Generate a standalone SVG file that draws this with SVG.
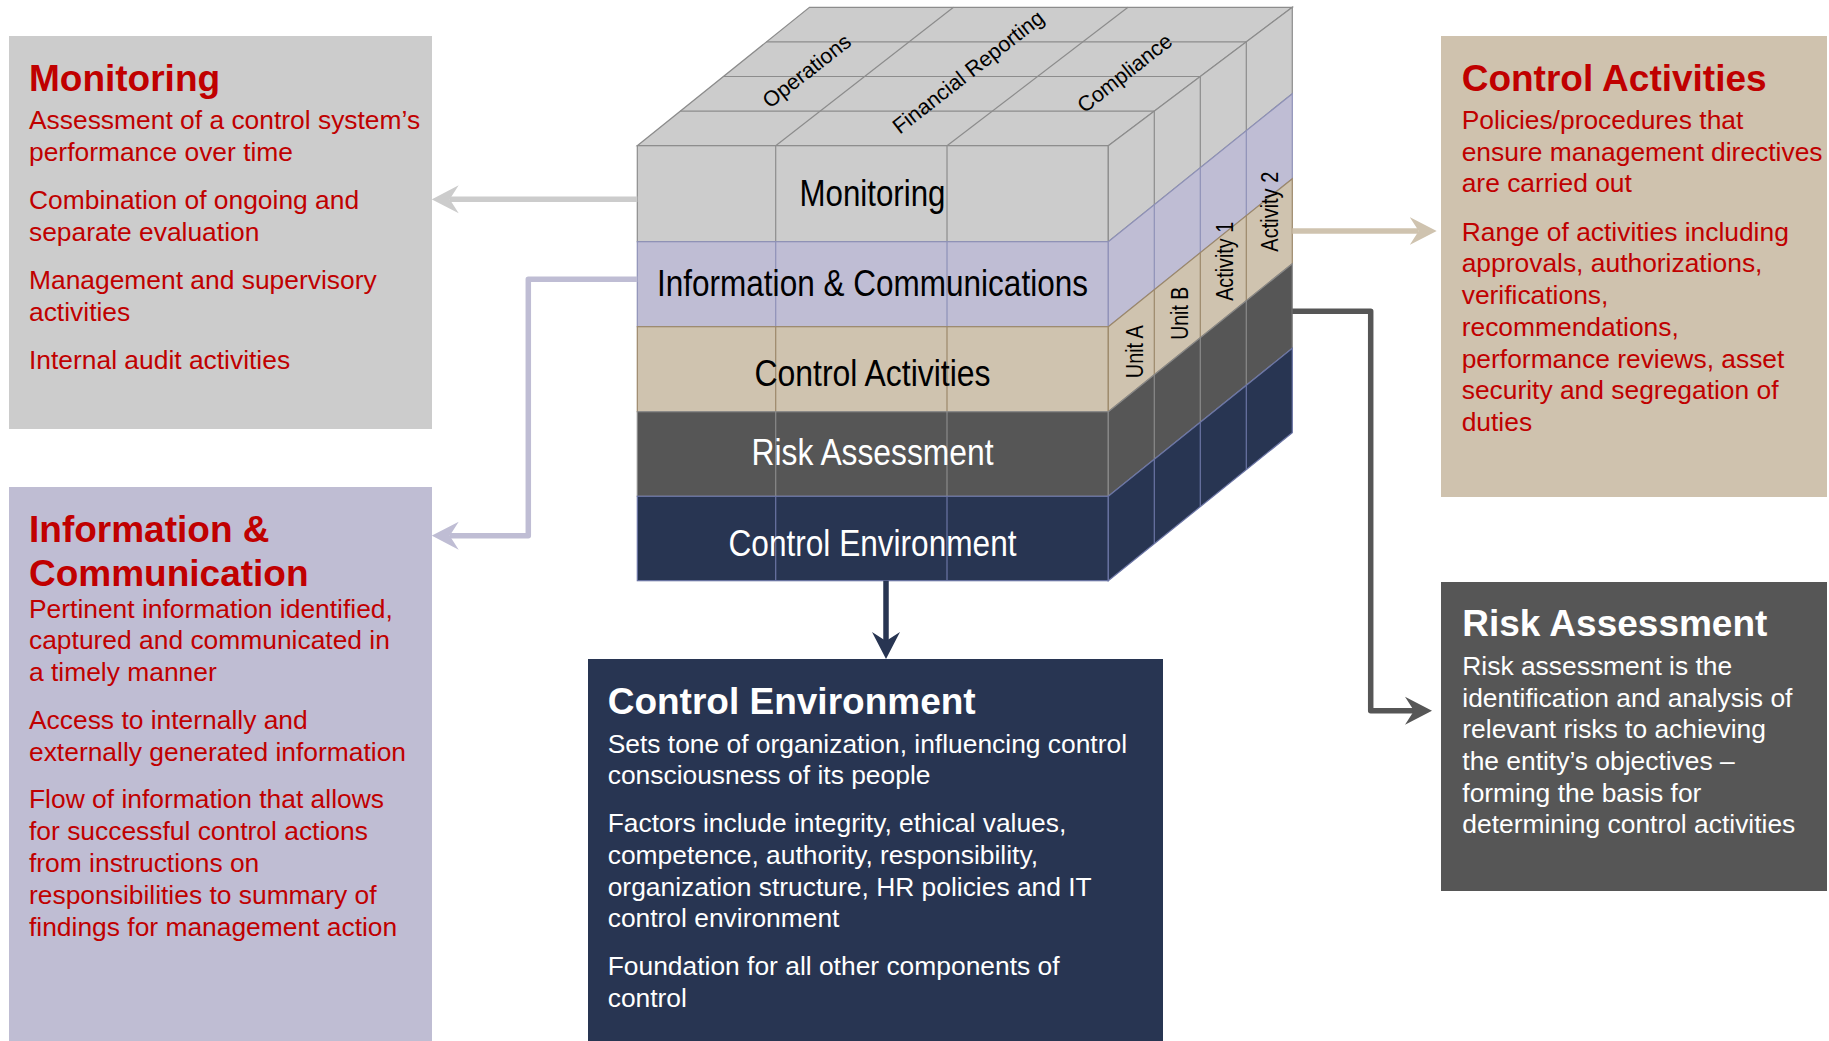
<svg xmlns="http://www.w3.org/2000/svg" width="1829" height="1041" viewBox="0 0 1829 1041">
<defs>
<style>
.title{font-family:"Liberation Sans",Arial,sans-serif;font-weight:bold;font-size:37px}
.body{font-family:"Liberation Sans",Arial,sans-serif;font-size:26.4px}
.red{fill:#c00000}
.white{fill:#ffffff}
.layer{font-family:"Liberation Sans",Arial,sans-serif;font-size:37px;text-anchor:middle}
.top{font-family:"Liberation Sans",Arial,sans-serif;font-size:21.5px;text-anchor:middle;fill:#000}
.side{font-family:"Liberation Sans",Arial,sans-serif;font-size:23px;text-anchor:middle;fill:#000}
.conn{fill:none;stroke-width:5.5;stroke-linejoin:round}
.lm{stroke:#8c8c8c;stroke-width:1.2}
.li{stroke:#8e91b7;stroke-width:1.2}
.lc{stroke:#9c886a;stroke-width:1.2}
.lr{stroke:#8a8a8a;stroke-width:1.2}
.le{stroke:#6b75a5;stroke-width:1.2}
</style>
<marker id="ah-gray" viewBox="0 0 27 30" refX="9" refY="15" markerWidth="27" markerHeight="30" markerUnits="userSpaceOnUse" orient="auto"><path d="M27,15 L0,1 L9,15 L0,29 Z" fill="#cccccc"/></marker>
<marker id="ah-lav" viewBox="0 0 27 30" refX="9" refY="15" markerWidth="27" markerHeight="30" markerUnits="userSpaceOnUse" orient="auto"><path d="M27,15 L0,1 L9,15 L0,29 Z" fill="#bfbdd4"/></marker>
<marker id="ah-tan" viewBox="0 0 27 30" refX="9" refY="15" markerWidth="27" markerHeight="30" markerUnits="userSpaceOnUse" orient="auto"><path d="M27,15 L0,1 L9,15 L0,29 Z" fill="#cfc3af"/></marker>
<marker id="ah-dark" viewBox="0 0 27 30" refX="9" refY="15" markerWidth="27" markerHeight="30" markerUnits="userSpaceOnUse" orient="auto"><path d="M27,15 L0,1 L9,15 L0,29 Z" fill="#565656"/></marker>
<marker id="ah-navy" viewBox="0 0 27 30" refX="9" refY="15" markerWidth="27" markerHeight="30" markerUnits="userSpaceOnUse" orient="auto"><path d="M27,15 L0,1 L9,15 L0,29 Z" fill="#283552"/></marker>
</defs>
<rect x="0" y="0" width="1829" height="1041" fill="#ffffff"/>

<g id="cube">
  <g id="cube-top">
    <polygon points="637.3,145.7 1108.3,145.7 1292.3,7.3 809.5,7.3" fill="#cccccc" stroke="#8c8c8c" stroke-width="1.2"/>
    <line class="lm" x1="680.3" y1="111.1" x2="1154.3" y2="111.1"/>
    <line class="lm" x1="723.4" y1="76.5" x2="1200.3" y2="76.5"/>
    <line class="lm" x1="766.4" y1="41.9" x2="1246.3" y2="41.9"/>
    <line class="lm" x1="775.7" y1="145.7" x2="953.5" y2="7.3"/>
    <line class="lm" x1="947" y1="145.7" x2="1128" y2="7.3"/>
    <text class="top" transform="translate(807.5,72) rotate(-38)" y="6">Operations</text>
    <text class="top" transform="translate(969,73) rotate(-38)" y="6">Financial Reporting</text>
    <text class="top" transform="translate(1125.5,74) rotate(-38)" y="6">Compliance</text>
  </g>
  <g id="layer-monitoring">
    <rect x="637.3" y="145.7" width="471" height="96" fill="#cccccc" stroke="#8c8c8c" stroke-width="1.2"/>
    <polygon points="1108.3,145.7 1292.3,7.3 1292.3,93.7 1108.3,241.7" fill="#cccccc" stroke="#8c8c8c" stroke-width="1.2"/>
    <line class="lm" x1="775.7" y1="145.7" x2="775.7" y2="241.7"/>
    <line class="lm" x1="947" y1="145.7" x2="947" y2="241.7"/>
    <line class="lm" x1="1154.3" y1="111.1" x2="1154.3" y2="204.7"/>
    <line class="lm" x1="1200.3" y1="76.5" x2="1200.3" y2="167.7"/>
    <line class="lm" x1="1246.3" y1="41.9" x2="1246.3" y2="130.7"/>
    <text class="layer" x="872.5" y="206" textLength="146" lengthAdjust="spacingAndGlyphs" fill="#000">Monitoring</text>
  </g>
  <g id="layer-information">
    <rect x="637.3" y="241.7" width="471" height="85" fill="#bfbdd4" stroke="#8e91b7" stroke-width="1.2"/>
    <polygon points="1108.3,241.7 1292.3,93.7 1292.3,178.7 1108.3,326.7" fill="#bfbdd4" stroke="#8e91b7" stroke-width="1.2"/>
    <line class="li" x1="775.7" y1="241.7" x2="775.7" y2="326.7"/>
    <line class="li" x1="947" y1="241.7" x2="947" y2="326.7"/>
    <line class="li" x1="1154.3" y1="204.7" x2="1154.3" y2="289.7"/>
    <line class="li" x1="1200.3" y1="167.7" x2="1200.3" y2="252.7"/>
    <line class="li" x1="1246.3" y1="130.7" x2="1246.3" y2="215.7"/>
    <text class="layer" x="872.5" y="295.7" textLength="431" lengthAdjust="spacingAndGlyphs" fill="#000">Information &amp; Communications</text>
  </g>
  <g id="layer-control-activities">
    <rect x="637.3" y="326.7" width="471" height="85" fill="#cfc3af" stroke="#9c886a" stroke-width="1.2"/>
    <polygon points="1108.3,326.7 1292.3,178.7 1292.3,263.7 1108.3,411.7" fill="#cfc3af" stroke="#9c886a" stroke-width="1.2"/>
    <line class="lc" x1="775.7" y1="326.7" x2="775.7" y2="411.7"/>
    <line class="lc" x1="947" y1="326.7" x2="947" y2="411.7"/>
    <line class="lc" x1="1154.3" y1="289.7" x2="1154.3" y2="374.7"/>
    <line class="lc" x1="1200.3" y1="252.7" x2="1200.3" y2="337.7"/>
    <line class="lc" x1="1246.3" y1="215.7" x2="1246.3" y2="300.7"/>
    <text class="layer" x="872.5" y="386" textLength="236" lengthAdjust="spacingAndGlyphs" fill="#000">Control Activities</text>
    <text class="side" transform="translate(1142.7,351.7) rotate(-90)" textLength="53" lengthAdjust="spacingAndGlyphs">Unit A</text>
    <text class="side" transform="translate(1188.3,313.3) rotate(-90)" textLength="53" lengthAdjust="spacingAndGlyphs">Unit B</text>
    <text class="side" transform="translate(1232.5,261.3) rotate(-90)" textLength="79" lengthAdjust="spacingAndGlyphs">Activity 1</text>
    <text class="side" transform="translate(1277.5,211.7) rotate(-90)" textLength="80" lengthAdjust="spacingAndGlyphs">Activity 2</text>
  </g>
  <g id="layer-risk-assessment">
    <rect x="637.3" y="411.7" width="471" height="84.6" fill="#565656" stroke="#8a8a8a" stroke-width="1.2"/>
    <polygon points="1108.3,411.7 1292.3,263.7 1292.3,348.3 1108.3,496.3" fill="#565656" stroke="#8a8a8a" stroke-width="1.2"/>
    <line class="lr" x1="775.7" y1="411.7" x2="775.7" y2="496.3"/>
    <line class="lr" x1="947" y1="411.7" x2="947" y2="496.3"/>
    <line class="lr" x1="1154.3" y1="374.7" x2="1154.3" y2="459.3"/>
    <line class="lr" x1="1200.3" y1="337.7" x2="1200.3" y2="422.3"/>
    <line class="lr" x1="1246.3" y1="300.7" x2="1246.3" y2="385.3"/>
    <text class="layer" x="872.5" y="465" textLength="242" lengthAdjust="spacingAndGlyphs" fill="#ffffff">Risk Assessment</text>
  </g>
  <g id="layer-control-environment">
    <rect x="637.3" y="496.3" width="471" height="84.4" fill="#283552" stroke="#6b75a5" stroke-width="1.2"/>
    <polygon points="1108.3,496.3 1292.3,348.3 1292.3,432.7 1108.3,580.7" fill="#283552" stroke="#6b75a5" stroke-width="1.2"/>
    <line class="le" x1="775.7" y1="496.3" x2="775.7" y2="580.7"/>
    <line class="le" x1="947" y1="496.3" x2="947" y2="580.7"/>
    <line class="le" x1="1154.3" y1="459.3" x2="1154.3" y2="543.7"/>
    <line class="le" x1="1200.3" y1="422.3" x2="1200.3" y2="506.7"/>
    <line class="le" x1="1246.3" y1="385.3" x2="1246.3" y2="469.7"/>
    <text class="layer" x="872.5" y="556" textLength="288" lengthAdjust="spacingAndGlyphs" fill="#ffffff">Control Environment</text>
  </g>
</g>

<g id="monitoring-box">
  <rect x="9" y="36" width="423" height="393" fill="#cccccc"/>
  <text class="title red" x="29" y="91">Monitoring</text>
  <text class="body red">
    <tspan x="29" y="129">Assessment of a control system’s</tspan>
    <tspan x="29" y="160.5">performance over time</tspan>
    <tspan x="29" y="209">Combination of ongoing and</tspan>
    <tspan x="29" y="240.5">separate evaluation</tspan>
    <tspan x="29" y="289">Management and supervisory</tspan>
    <tspan x="29" y="320.5">activities</tspan>
    <tspan x="29" y="369">Internal audit activities</tspan>
  </text>
</g>

<g id="information-box">
  <rect x="9" y="487" width="423" height="554" fill="#bfbdd3"/>
  <text class="title red"><tspan x="29" y="541.5">Information &amp;</tspan><tspan x="29" y="586.3">Communication</tspan></text>
  <text class="body red">
    <tspan x="29" y="617.7">Pertinent information identified,</tspan>
    <tspan x="29" y="649.2">captured and communicated in</tspan>
    <tspan x="29" y="680.8">a timely manner</tspan>
    <tspan x="29" y="729.4">Access to internally and</tspan>
    <tspan x="29" y="760.9">externally generated information</tspan>
    <tspan x="29" y="808.4">Flow of information that allows</tspan>
    <tspan x="29" y="840.4">for successful control actions</tspan>
    <tspan x="29" y="872.4">from instructions on</tspan>
    <tspan x="29" y="904.4">responsibilities to summary of</tspan>
    <tspan x="29" y="936.2">findings for management action</tspan>
  </text>
</g>

<g id="control-activities-box">
  <rect x="1441" y="36" width="386" height="461" fill="#cfc2ae"/>
  <text class="title red" x="1461.7" y="91">Control Activities</text>
  <text class="body red">
    <tspan x="1461.7" y="129">Policies/procedures that</tspan>
    <tspan x="1461.7" y="160.6">ensure management directives</tspan>
    <tspan x="1461.7" y="192.2">are carried out</tspan>
    <tspan x="1461.7" y="240.7">Range of activities including</tspan>
    <tspan x="1461.7" y="272.4">approvals, authorizations,</tspan>
    <tspan x="1461.7" y="304.1">verifications,</tspan>
    <tspan x="1461.7" y="335.8">recommendations,</tspan>
    <tspan x="1461.7" y="367.5">performance reviews, asset</tspan>
    <tspan x="1461.7" y="399.2">security and segregation of</tspan>
    <tspan x="1461.7" y="430.9">duties</tspan>
  </text>
</g>

<g id="risk-assessment-box">
  <rect x="1441" y="582" width="386" height="309" fill="#565656"/>
  <text class="title white" x="1462.3" y="635.7">Risk Assessment</text>
  <text class="body white">
    <tspan x="1462.3" y="675">Risk assessment is the</tspan>
    <tspan x="1462.3" y="706.7">identification and analysis of</tspan>
    <tspan x="1462.3" y="738.3">relevant risks to achieving</tspan>
    <tspan x="1462.3" y="770">the entity’s objectives –</tspan>
    <tspan x="1462.3" y="801.7">forming the basis for</tspan>
    <tspan x="1462.3" y="833.3">determining control activities</tspan>
  </text>
</g>

<g id="control-environment-box">
  <rect x="588" y="659" width="575" height="382" fill="#283552"/>
  <text class="title white" x="607.7" y="714">Control Environment</text>
  <text class="body white">
    <tspan x="607.7" y="752.7">Sets tone of organization, influencing control</tspan>
    <tspan x="607.7" y="784.3">consciousness of its people</tspan>
    <tspan x="607.7" y="832.3">Factors include integrity, ethical values,</tspan>
    <tspan x="607.7" y="863.9">competence, authority, responsibility,</tspan>
    <tspan x="607.7" y="895.5">organization structure, HR policies and IT</tspan>
    <tspan x="607.7" y="927.1">control environment</tspan>
    <tspan x="607.7" y="975.3">Foundation for all other components of</tspan>
    <tspan x="607.7" y="1006.9">control</tspan>
  </text>
</g>

<g id="connectors">
  <path class="conn" d="M637.3,199.3 H449.7" stroke="#cccccc" marker-end="url(#ah-gray)"/>
  <path class="conn" d="M637.3,279.3 H528.3 V535.7 H449.7" stroke="#bfbdd4" marker-end="url(#ah-lav)"/>
  <path class="conn" d="M1292.3,231 H1418.7" stroke="#cfc3af" marker-end="url(#ah-tan)"/>
  <path class="conn" d="M1292.3,311.2 H1370.7 V710.7 H1414" stroke="#565656" marker-end="url(#ah-dark)"/>
  <path class="conn" d="M886,580.7 V641" stroke="#283552" marker-end="url(#ah-navy)"/>
</g>
</svg>
